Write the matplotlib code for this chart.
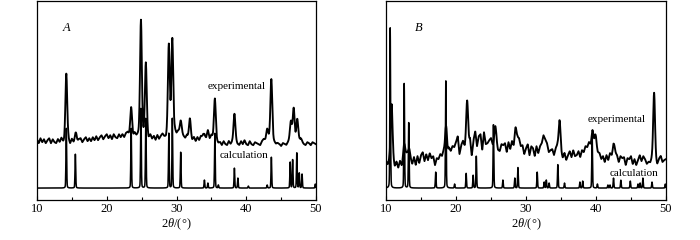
import numpy as np
import matplotlib
matplotlib.use("Agg")
import matplotlib.pyplot as plt
from matplotlib.ticker import MultipleLocator

plt.rcParams['font.family'] = ['Liberation Serif', 'DejaVu Serif']
plt.rcParams['mathtext.fontset'] = 'custom'
plt.rcParams['mathtext.rm'] = 'Liberation Serif'
plt.rcParams['mathtext.it'] = 'Liberation Serif:italic'

# ---------------- data ----------------
bg_step = 0.25  # experimental background sampled every 0.25 deg from 10 to 50

# Panel A
exp_bg_A = [61,57,62,58,61,57,60,62,57,61,58,57,61,58,62,58,57,
            57,60,56,61,58,62,58,61,62,58,61,63,59,62,59,63,
            60,64,60,63,65,61,64,66,62,65,61,66,63,62,66,63,
            66,63,67,68,65,66,63,67,64,65,62,66,63,62,65,61,
            65,61,64,60,65,61,64,66,63,62,67,66,67,64,69,66,
            69,66,67,64,62,65,61,64,60,63,59,63,60,64,61,65,
            62,66,61,65,62,63,59,57,58,55,59,56,55,59,56,58,
            56,59,56,55,59,56,60,56,55,59,56,55,58,57,56,55,
            59,61,60,63,62,63,59,58,56,57,56,54,57,56,55,58,
            61,62,60,59,57,61,56,58,56,55,58,57,55,58,57,56]
exp_pos_A = [14.2, 15.6, 23.5, 24.9, 25.6, 28.9, 29.4, 30.6, 31.9, 33.8, 34.5,
             35.5, 38.3, 43.0, 43.6, 46.4, 46.8, 47.3, 47.8]
exp_int_A = [70, 7, 27, 116, 74, 89, 96, 13, 19, 4, 4,
             39, 30, 8, 60, 17, 32, 23, 5]
calc_pos_A = [14.2, 15.5, 23.5, 24.9, 25.6, 28.9, 29.4, 30.6, 34.0, 34.5, 35.5,
              36.0, 38.3, 38.8, 40.3, 43.0, 43.6, 46.3, 46.65, 47.25, 47.6, 48.0, 49.9]
calc_int_A = [60, 34, 60, 80, 70, 55, 70, 36, 8, 5, 55,
              3, 20, 10, 2, 3, 31, 26, 29, 36, 15, 14, 4]

# Panel B
exp_bg_B = [39,35,40,38, 40,33,38,32, 39,34,42,45, 47,42,41,36,
            43,35,44,37, 45,48,39,46, 40,47,42,44, 35,42,41,46,
            44,50,52,45, 52,49,54,53, 58,64,46,55, 59,53,60,55,
            61,44,60,69, 54,64,66,50, 68,56,57,60, 62,55,56,59,
            50,49,56,55, 57,48,58,51, 59,53,60,63, 62,54,55,46,
            52,56,45,54, 52,44,54,47, 54,57,65,61, 57,48,50,51,
            45,52,55,51, 47,42,47,40, 45,49,43,50, 44,45,49,43,
            50,48,54,53, 58,55,60,55, 56,48,47,41, 44,38,45,40,
            47,45,53,47, 45,38,44,42, 43,35,42,41, 44,36,41,35,
            40,45,39,44, 41,36,38,37, 41,40,39,35, 41,44,38,40, 41]
exp_pos_B = [10.8, 12.6, 13.3, 18.6, 21.6, 25.6, 28.5, 34.8, 39.5, 39.9, 42.6, 48.3]
exp_int_B = [58, 13, 10, 25, 42, 17, 13, 30, 10, 10, 5, 68]
calc_pos_B = [10.6, 12.6, 13.25, 17.1, 18.55, 19.8, 21.45, 22.45, 22.9, 25.35, 26.7,
              28.4, 28.85, 31.6, 32.6, 32.9, 33.3, 34.55, 35.5, 37.7, 38.1, 39.45,
              40.2, 41.7, 42.0, 42.5, 43.55, 44.9, 46.0, 46.3, 46.7, 48.0, 49.9]
calc_int_B = [161, 105, 67, 16, 110, 4, 15, 13, 32, 65, 8,
              10, 21, 16, 6, 8, 5, 24, 5, 6, 7, 55,
              4, 3, 3, 10, 8, 7, 4, 5, 10, 6, 4]

calc_offset = 12
x_ticks = [10, 20, 30, 40, 50]
x_label = r'2$\it{\theta}$/(°)'

# ---------------- drawing ----------------
x = np.arange(10, 50.0001, 0.02)
bg_x = np.arange(10, 50.0001, bg_step)


def profile(pos, inten, sig):
    y = np.zeros_like(x)
    for p, h in zip(pos, inten):
        g = np.exp(-0.5 * ((x - p) / sig) ** 2)
        l = 1 / (1 + ((x - p) / (1.2 * sig)) ** 2)
        y += h * (0.8 * g + 0.2 * l)
    return y


fig = plt.figure(figsize=(7, 2.4), dpi=100)
axA = fig.add_axes([37/700, 1-200/240, 279/700, 199/240])
axB = fig.add_axes([386/700, 1-200/240, 280/700, 199/240])

panels = [
    (axA, exp_bg_A, exp_pos_A, exp_int_A, calc_pos_A, calc_int_A, 'A',
     (0.093, 0.865), (0.613, 0.57), (0.656, 0.225)),
    (axB, exp_bg_B, exp_pos_B, exp_int_B, calc_pos_B, calc_int_B, 'B',
     (0.104, 0.865), (0.721, 0.405), (0.80, 0.135)),
]

for ax, bg, ep, ei, cp, ci, lab, ltxt, etxt, ctxt in panels:
    ye = np.interp(x, bg_x, bg) + profile(ep, ei, 0.13)
    yc = calc_offset + profile(cp, ci, 0.05)
    ax.plot(x, yc, color='black', lw=1.1)
    ax.plot(x, ye, color='black', lw=1.35)
    ax.set_xlim(10, 50)
    ax.set_ylim(0, 200)
    ax.set_yticks([])
    ax.set_xticks(x_ticks)
    ax.xaxis.set_minor_locator(MultipleLocator(5))
    ax.tick_params(axis='x', which='major', direction='in', length=3, width=0.8,
                   labelsize=9, pad=2.5)
    ax.tick_params(axis='x', which='minor', direction='in', length=2, width=0.8)
    for s in ax.spines.values():
        s.set_linewidth(0.9)
    ax.set_xlabel(x_label, fontsize=9, labelpad=1)
    ax.text(ltxt[0], ltxt[1], lab, transform=ax.transAxes,
            fontsize=9, style='italic', ha='left', va='center')
    ax.text(etxt[0], etxt[1], 'experimental', transform=ax.transAxes,
            fontsize=8, ha='left', va='center')
    ax.text(ctxt[0], ctxt[1], 'calculation', transform=ax.transAxes,
            fontsize=8, ha='left', va='center')

fig.savefig('out.png', dpi=100)
